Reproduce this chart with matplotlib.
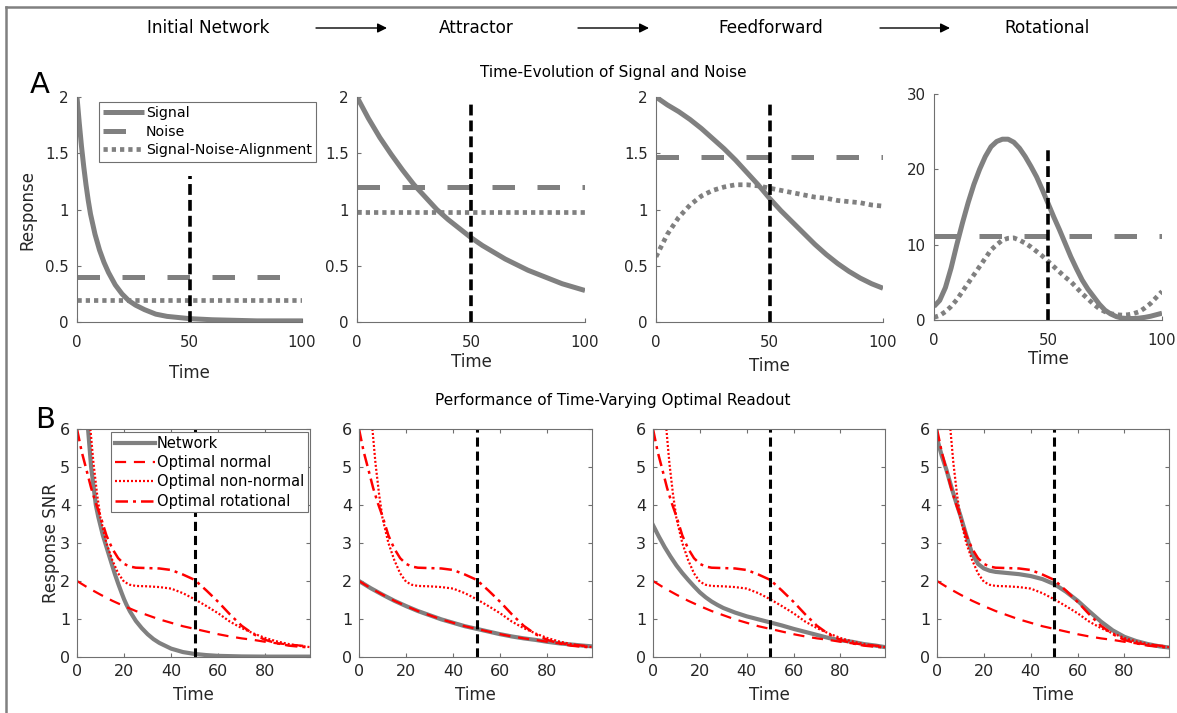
import numpy as np
import matplotlib.pyplot as plt
from matplotlib.lines import Line2D
from matplotlib.patches import FancyArrowPatch

plt.rcParams['font.family'] = ['DejaVu Sans']

# ---------------- date panel A (Signal / Noise / Alignment) ----------------
t_a1 = [0, 1, 2, 3, 4, 5, 6, 8, 10, 12, 14, 17, 20, 23, 26, 30, 35, 40, 45, 50, 60, 70, 80, 90, 100]
signal_a1 = [2.0, 1.77, 1.56, 1.38, 1.22, 1.08, 0.96, 0.78, 0.64, 0.53, 0.44, 0.33, 0.25, 0.19, 0.15,
             0.11, 0.07, 0.05, 0.04, 0.03, 0.02, 0.015, 0.01, 0.01, 0.01]
noise_a1 = 0.4
align_a1 = 0.2

t_a = [0, 5, 10, 15, 20, 25, 30, 35, 40, 45, 50, 55, 60, 65, 70, 75, 80, 85, 90, 95, 100]
signal_a2 = [2.0, 1.81, 1.64, 1.49, 1.35, 1.22, 1.11, 1.00, 0.91, 0.83, 0.75, 0.68, 0.62, 0.56, 0.51,
             0.46, 0.42, 0.38, 0.34, 0.31, 0.28]
noise_a2 = 1.2
align_a2 = 0.98

signal_a3 = [2.0, 1.93, 1.87, 1.80, 1.72, 1.63, 1.54, 1.44, 1.33, 1.22, 1.10, 0.99, 0.89, 0.79, 0.69,
             0.60, 0.52, 0.45, 0.39, 0.34, 0.30]
noise_a3 = 1.47
align_a3 = [0.58, 0.78, 0.93, 1.04, 1.12, 1.17, 1.20, 1.22, 1.22, 1.21, 1.19, 1.17, 1.15, 1.13, 1.11,
            1.10, 1.08, 1.07, 1.06, 1.04, 1.03]

t_a4 = [0, 2.5, 5, 7.5, 10, 12.5, 15, 17.5, 20, 22.5, 25, 27.5, 30, 32.5, 35, 37.5, 40, 42.5, 45, 47.5,
        50, 52.5, 55, 57.5, 60, 62.5, 65, 67.5, 70, 72.5, 75, 77.5, 80, 82.5, 85, 87.5, 90, 92.5, 95, 97.5, 100]
signal_a4 = [1.8, 2.6, 4.3, 6.9, 10.0, 12.9, 15.6, 18.0, 20.0, 21.7, 23.0, 23.7, 24.0, 24.0, 23.6, 22.8,
             21.7, 20.4, 19.0, 17.3, 15.5, 13.7, 12.0, 10.2, 8.4, 6.8, 5.3, 4.1, 3.1, 2.1, 1.3, 0.8,
             0.45, 0.25, 0.2, 0.2, 0.25, 0.35, 0.5, 0.7, 0.9]
noise_a4 = 11.2
align_a4 = [0.35, 0.6, 1.1, 1.8, 2.7, 3.8, 4.9, 6.0, 7.1, 8.2, 9.3, 10.0, 10.6, 10.85, 10.9, 10.6,
            10.2, 9.7, 9.1, 8.5, 7.8, 7.1, 6.4, 5.7, 5.1, 4.3, 3.5, 2.8, 2.1, 1.5, 1.1, 0.85,
            0.7, 0.65, 0.7, 0.85, 1.1, 1.6, 2.2, 3.0, 3.8]

# ---------------- date panel B (SNR) ----------------
t_norm = [0, 5, 10, 15, 20, 25, 30, 35, 40, 45, 50, 55, 60, 65, 70, 75, 80, 85, 90, 95, 99]
snr_normal = [2.0, 1.81, 1.64, 1.48, 1.34, 1.21, 1.10, 0.99, 0.90, 0.81, 0.74, 0.67, 0.60, 0.54, 0.49,
              0.45, 0.40, 0.36, 0.33, 0.30, 0.28]

t_nn = [5.7, 7, 8.5, 10, 12.5, 15, 17.5, 20, 22.5, 25, 30, 35, 40, 45, 50, 55, 60, 65, 70, 75, 80, 85, 90, 95, 99]
snr_nonnormal = [6.0, 5.1, 4.3, 3.65, 3.0, 2.55, 2.2, 1.98, 1.9, 1.87, 1.86, 1.84, 1.8, 1.68, 1.52,
                 1.34, 1.15, 0.93, 0.76, 0.62, 0.5, 0.41, 0.34, 0.29, 0.26]

t_rot = [0, 2, 4, 6, 8, 10, 12.5, 15, 17.5, 20, 22.5, 25, 30, 35, 40, 45, 50, 55, 60, 65, 70, 75, 80, 85, 90, 95, 99]
snr_rot = [6.0, 5.4, 4.93, 4.45, 4.05, 3.7, 3.2, 2.85, 2.6, 2.45, 2.38, 2.35, 2.34, 2.33, 2.29, 2.17, 2.03,
           1.75, 1.45, 1.12, 0.82, 0.6, 0.45, 0.36, 0.3, 0.27, 0.25]

t_b1 = [4.7, 6, 7, 8, 9, 10, 11, 12.5, 14, 15, 16, 17.5, 19, 20, 21, 22.5, 24, 25, 27.5, 30, 32.5, 35,
        40, 45, 50, 55, 60, 70, 80, 99]
net_b1 = [6.0, 5.0, 4.5, 4.0, 3.7, 3.45, 3.2, 2.9, 2.6, 2.4, 2.2, 1.93, 1.68, 1.52, 1.38, 1.2, 1.05, 0.95,
          0.76, 0.6, 0.47, 0.37, 0.22, 0.13, 0.08, 0.05, 0.03, 0.015, 0.01, 0.01]

net_b2 = snr_normal

t_b3 = [0, 2.5, 5, 7.5, 10, 12.5, 15, 17.5, 20, 22.5, 25, 27.5, 30, 35, 40, 45, 50, 55, 60, 65, 70,
        75, 80, 85, 90, 95, 99]
net_b3 = [3.47, 3.17, 2.89, 2.64, 2.41, 2.21, 2.03, 1.86, 1.70, 1.57, 1.46, 1.37, 1.29, 1.17, 1.07,
          0.99, 0.91, 0.83, 0.74, 0.66, 0.58, 0.5, 0.44, 0.4, 0.34, 0.3, 0.26]

t_b4 = [0, 2, 4, 6, 8, 10, 12.5, 15, 17.5, 20, 22.5, 25, 30, 35, 40, 45, 50, 55, 60, 65, 70, 75, 80, 85, 90, 95, 99]
net_b4 = [5.76, 5.3, 4.93, 4.5, 4.1, 3.72, 3.2, 2.72, 2.45, 2.33, 2.27, 2.24, 2.21, 2.18, 2.13, 2.05, 1.92,
          1.72, 1.48, 1.2, 0.93, 0.7, 0.53, 0.42, 0.34, 0.28, 0.25]

titluri = ['Initial Network', 'Attractor', 'Feedforward', 'Rotational']

W, H = 1177, 713
fig = plt.figure(figsize=(W / 100, H / 100), dpi=100)

def fx(px):
    return px / W

def fy(py):
    return 1 - py / H

gri = '#808080'
ax_col = '#707070'
txt_col = '#262626'

# chenar (sus si stanga)
fig.add_artist(Line2D([fx(6), 1], [fy(7), fy(7)], color=gri, lw=1.8))
fig.add_artist(Line2D([fx(6), fx(6)], [fy(7), 0], color=gri, lw=1.8))

# antet cu sageti
for x, s in zip([208, 476, 771, 1047], titluri):
    fig.text(fx(x), fy(28), s, ha='center', va='center', fontsize=12.2, color='black')
for x0, x1 in [(316, 387), (578, 649), (880, 950)]:
    fig.add_artist(FancyArrowPatch((fx(x0), fy(28)), (fx(x1), fy(28)), transform=fig.transFigure,
                                   arrowstyle='-|>', color='black', lw=1.0, mutation_scale=14,
                                   shrinkA=0, shrinkB=0))

fig.text(fx(40), fy(85), 'A', fontsize=21, ha='center', va='center')
fig.text(fx(45), fy(420), 'B', fontsize=21, ha='center', va='center')
fig.text(fx(613), fy(72), 'Time-Evolution of Signal and Noise', fontsize=11, ha='center', va='center')
fig.text(fx(613), fy(400), 'Performance of Time-Varying Optimal Readout', fontsize=11, ha='center', va='center')

# ---------------- panel A ----------------
pos_a = [(77, 302, 97, 322), (357, 585, 97, 322), (656, 883, 97, 322), (934, 1162, 94, 320)]
semnale = [(t_a1, signal_a1), (t_a, signal_a2), (t_a, signal_a3), (t_a4, signal_a4)]
zgomote = [noise_a1, noise_a2, noise_a3, noise_a4]
aliniere = [([0, 100], [align_a1] * 2), ([0, 100], [align_a2] * 2), (t_a, align_a3), (t_a4, align_a4)]
vlinie = [(0, 1.3), (0, 1.95), (0, 1.95), (0, 22.8)]
xlabel_pad = [10, 2, 5, 1.5]

axes_a = []
for i in range(4):
    l, r, t, b = pos_a[i]
    ax = fig.add_axes([fx(l), fy(b), fx(r - l), (b - t) / H])
    ts, sig = semnale[i]
    ax.plot(ts, sig, color=gri, lw=3.6, solid_capstyle='butt', label='Signal')
    ax.plot([0, 100], [zgomote[i]] * 2, color=gri, lw=3.6, dashes=(4.5, 4.5), label='Noise')
    ta, al = aliniere[i]
    ax.plot(ta, al, color=gri, lw=3.4, dashes=(0.9, 0.85), label='Signal-Noise-Alignment')
    ax.plot([50, 50], vlinie[i], color='black', lw=2.6, dashes=(3, 1.4))
    ax.set_xlim(0, 100)
    ax.set_xticks([0, 50, 100])
    if i < 3:
        ax.set_ylim(0, 2)
        ax.set_yticks([0, 0.5, 1, 1.5, 2])
        ax.set_yticklabels(['0', '0.5', '1', '1.5', '2'])
    else:
        ax.set_ylim(0, 30)
        ax.set_yticks([0, 10, 20, 30])
    for s in ['top', 'right']:
        ax.spines[s].set_visible(False)
    for s in ['left', 'bottom']:
        ax.spines[s].set_color(ax_col)
    ax.tick_params(direction='in', length=3, color=ax_col, labelsize=10.8, labelcolor=txt_col, pad=6)
    ax.tick_params(axis='x', pad=9.5)
    ax.set_xlabel('Time', fontsize=12, color=txt_col, labelpad=xlabel_pad[i])
    axes_a.append(ax)

axes_a[0].set_ylabel('Response', fontsize=12, color=txt_col, labelpad=6)
leg = axes_a[0].legend(loc='upper left', bbox_to_anchor=(fx(99), fy(102)), bbox_transform=fig.transFigure,
                       fontsize=10.2, handlelength=2.9, handletextpad=0.1, labelspacing=0.32,
                       borderpad=0.3, borderaxespad=0, fancybox=False, framealpha=1)
leg.get_frame().set_edgecolor(ax_col)
leg.get_frame().set_linewidth(0.8)

# ---------------- panel B ----------------
pos_b = [(77, 310), (359, 592), (653, 885), (937, 1169)]
retele = [(t_b1, net_b1), (t_norm, net_b2), (t_b3, net_b3), (t_b4, net_b4)]
for i in range(4):
    l, r = pos_b[i]
    ax = fig.add_axes([fx(l), fy(657), fx(r - l), (657 - 429) / H])
    tn, net = retele[i]
    ax.plot(tn, net, color=gri, lw=3.0, label='Network')
    ax.plot(t_norm, snr_normal, color='red', lw=1.6, dashes=(5, 3.5), label='Optimal normal')
    ax.plot(t_nn, snr_nonnormal, color='red', lw=1.6, dashes=(0.9, 0.9), label='Optimal non-normal')
    ax.plot(t_rot, snr_rot, color='red', lw=1.8, dashes=(5, 2, 1.2, 2), label='Optimal rotational')
    ax.plot([50, 50], [0, 6], color='black', lw=2.2, dashes=(3, 1.6))
    ax.set_xlim(0, 99)
    ax.set_ylim(0, 6)
    ax.set_xticks([0, 20, 40, 60, 80])
    ax.set_yticks([0, 1, 2, 3, 4, 5, 6])
    for s in ax.spines.values():
        s.set_color(ax_col)
    ax.tick_params(direction='in', length=3, color=ax_col, top=True, right=True,
                   labelsize=11.5, labelcolor=txt_col, pad=5)
    ax.set_xlabel('Time', fontsize=12, color=txt_col, labelpad=5)
    if i == 0:
        ax.set_ylabel('Response SNR', fontsize=12, color=txt_col, labelpad=0)
        lg = ax.legend(loc='upper left', bbox_to_anchor=(fx(111), fy(432)), bbox_transform=fig.transFigure,
                       fontsize=10.5, handlelength=2.8, handletextpad=0.1, labelspacing=0.3,
                       borderpad=0.25, borderaxespad=0, fancybox=False, framealpha=1)
        lg.get_frame().set_edgecolor(ax_col)
        lg.get_frame().set_linewidth(0.8)

plt.savefig('out.png', dpi=100)
